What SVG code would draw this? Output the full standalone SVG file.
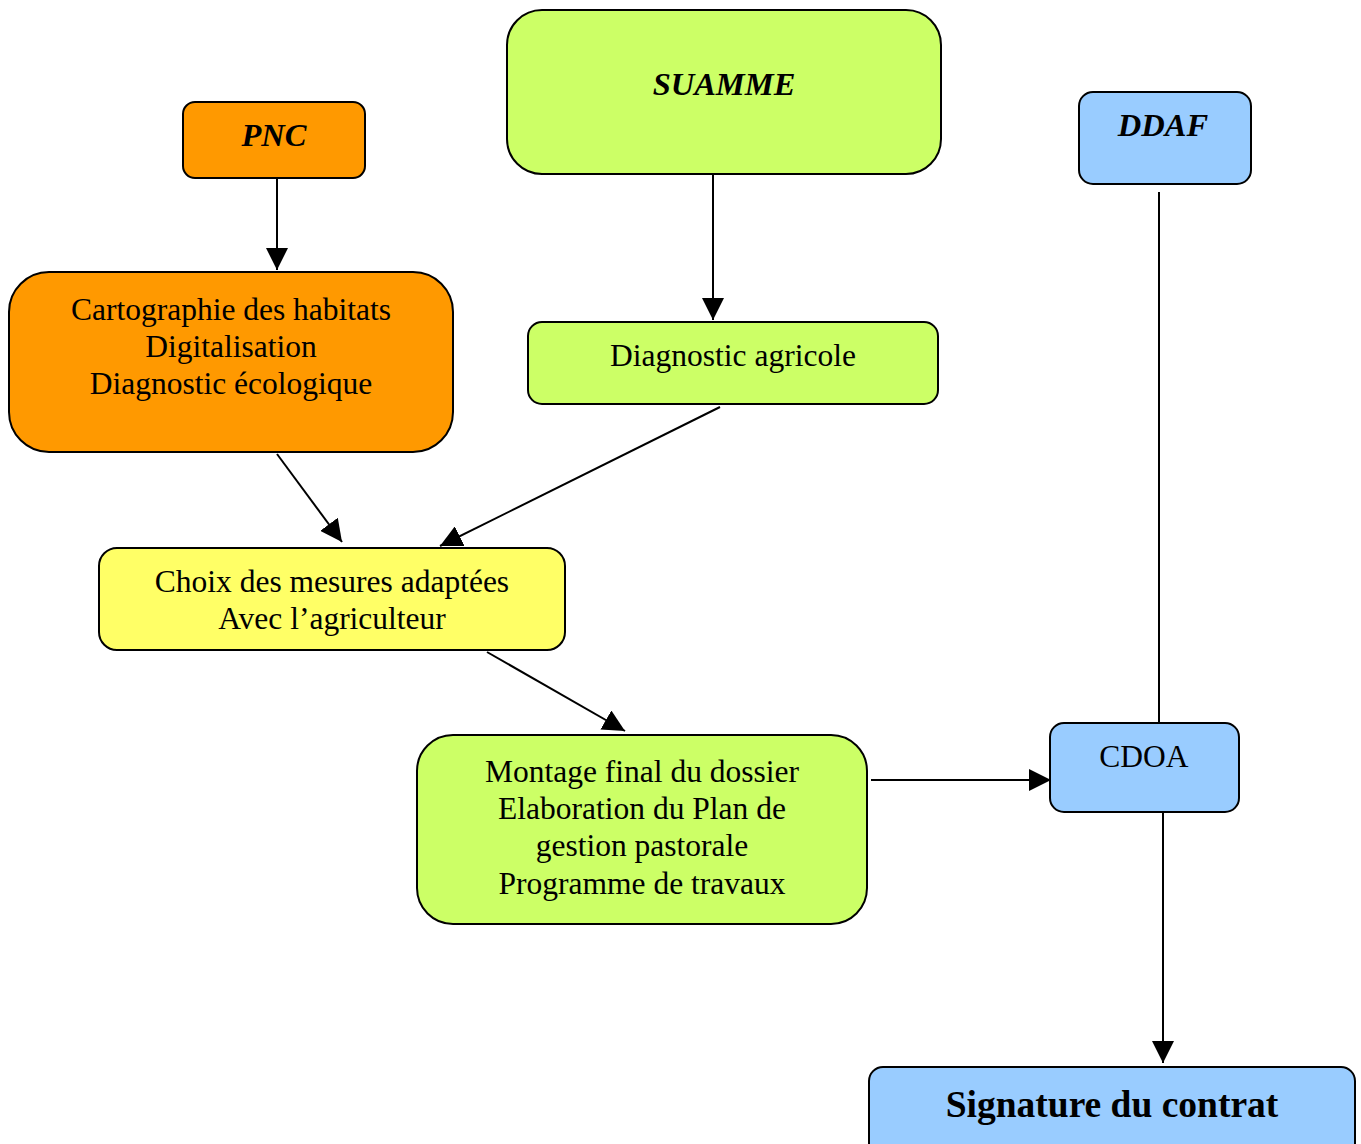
<svg xmlns="http://www.w3.org/2000/svg" width="1361" height="1144" viewBox="0 0 1361 1144">
<style>
.n{stroke:#000;stroke-width:2}
.t{font-family:"Liberation Serif","Times New Roman",serif;font-size:31.5px;text-anchor:middle;fill:#000}
.h{font-weight:bold;font-style:italic;font-size:32.5px}
.c{stroke:#000;stroke-width:2;fill:none}
</style>
<defs>
<marker id="a" markerUnits="userSpaceOnUse" markerWidth="24" markerHeight="22" refX="22" refY="11" orient="auto">
<path d="M0,0 L22,11 L0,22 Z" fill="#000"/>
</marker>
</defs>
<rect width="1361" height="1144" fill="#fff"/>
<g id="connectors">
<line class="c" x1="277" y1="178" x2="277" y2="270" marker-end="url(#a)"/>
<line class="c" x1="713" y1="175" x2="713" y2="320" marker-end="url(#a)"/>
<line class="c" x1="720" y1="407" x2="440" y2="546" marker-end="url(#a)"/>
<line class="c" x1="277" y1="454" x2="342" y2="542" marker-end="url(#a)"/>
<line class="c" x1="487" y1="652" x2="625" y2="731" marker-end="url(#a)"/>
<line class="c" x1="871" y1="780" x2="1051" y2="780" marker-end="url(#a)"/>
<line class="c" x1="1159" y1="192" x2="1159" y2="723"/>
<line class="c" x1="1163" y1="813" x2="1163" y2="1063" marker-end="url(#a)"/>
</g>
<g id="pnc">
<rect class="n" x="183" y="102" width="182" height="76" rx="12" fill="#FF9900"/>
<text class="t h" x="274" y="146">PNC</text>
</g>
<g id="suamme">
<rect class="n" x="507" y="10" width="434" height="164" rx="35" fill="#CCFF66"/>
<text class="t h" x="724" y="95">SUAMME</text>
</g>
<g id="ddaf">
<rect class="n" x="1079" y="92" width="172" height="92" rx="14" fill="#99CCFF"/>
<text class="t h" x="1163" y="136">DDAF</text>
</g>
<g id="cartographie">
<rect class="n" x="9" y="272" width="444" height="180" rx="40" fill="#FF9900"/>
<text class="t" x="231" y="320">Cartographie des habitats</text>
<text class="t" x="231" y="357">Digitalisation</text>
<text class="t" x="231" y="394">Diagnostic écologique</text>
</g>
<g id="diagnostic">
<rect class="n" x="528" y="322" width="410" height="82" rx="14" fill="#CCFF66"/>
<text class="t" x="733" y="366">Diagnostic agricole</text>
</g>
<g id="choix">
<rect class="n" x="99" y="548" width="466" height="102" rx="18" fill="#FFFF66"/>
<text class="t" x="332" y="592">Choix des mesures adaptées</text>
<text class="t" x="332" y="629">Avec l’agriculteur</text>
</g>
<g id="montage">
<rect class="n" x="417" y="735" width="450" height="189" rx="36" fill="#CCFF66"/>
<text class="t" x="642" y="782">Montage final du dossier</text>
<text class="t" x="642" y="819">Elaboration du Plan de</text>
<text class="t" x="642" y="856">gestion pastorale</text>
<text class="t" x="642" y="894">Programme de travaux</text>
</g>
<g id="cdoa">
<rect class="n" x="1050" y="723" width="189" height="89" rx="14" fill="#99CCFF"/>
<text class="t" x="1144" y="767">CDOA</text>
</g>
<g id="signature">
<rect class="n" x="869" y="1067" width="486" height="90" rx="14" fill="#99CCFF"/>
<text class="t" x="1112" y="1117" style="font-weight:bold;font-size:37.5px">Signature du contrat</text>
</g>
</svg>
